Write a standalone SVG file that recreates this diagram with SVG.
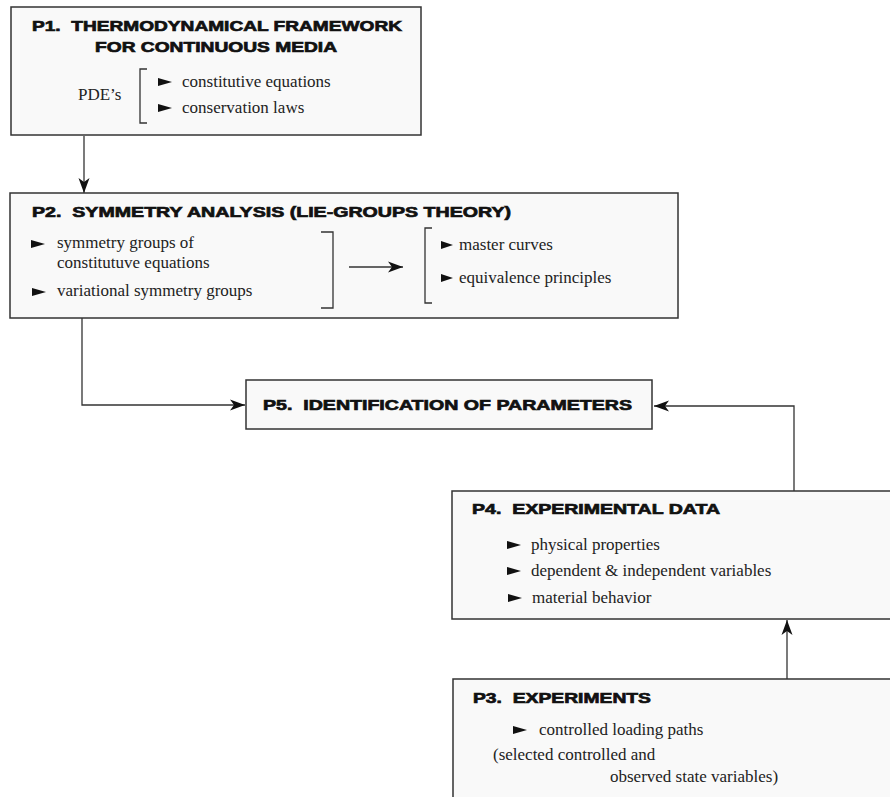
<svg xmlns="http://www.w3.org/2000/svg" width="890" height="797" viewBox="0 0 890 797">
<style>
.box{fill:#f9f9f9;stroke:#333;stroke-width:1.5}
.ttl{font-family:"Liberation Sans",Arial,sans-serif;font-weight:bold;font-size:15px;fill:#111;stroke:#111;stroke-width:0.7;white-space:pre}
.txt{font-family:"Liberation Serif","Times New Roman",serif;font-size:17px;fill:#222}
.bul{fill:#111}
.br{fill:none;stroke:#333;stroke-width:1.3}
.con{fill:none;stroke:#333;stroke-width:1.3}
</style>
<defs>
<path id="tri" d="M0,-4 L14,0 L0,4 Z"/>
<path id="tri2" d="M0,-4 L12,0 L0,4 Z"/>
<marker id="ah" markerUnits="userSpaceOnUse" markerWidth="16" markerHeight="12" viewBox="0 -6 16 12" refX="15" refY="0" orient="auto">
<path d="M0,-5.5 L15,0 L0,5.5 L4,0 Z" fill="#111"/>
</marker>
</defs>
<rect width="890" height="797" fill="#ffffff"/>

<g id="connectors">
<path class="con" d="M84,136 V193" marker-end="url(#ah)"/>
<path class="con" d="M82,318 V405 H245" marker-end="url(#ah)"/>
<path class="con" d="M794,491 V406 H654" marker-end="url(#ah)"/>
<path class="con" d="M787,679 V620" marker-end="url(#ah)"/>
</g>

<g id="P1">
<rect class="box" x="11" y="7" width="410" height="128"/>
<text class="ttl" x="32" y="31" textLength="370" lengthAdjust="spacingAndGlyphs">P1.  THERMODYNAMICAL FRAMEWORK</text>
<text class="ttl" x="95" y="52" textLength="242" lengthAdjust="spacingAndGlyphs">FOR CONTINUOUS MEDIA</text>
<text class="txt" x="78" y="100">PDE’s</text>
<path class="br" d="M147,69 H140 V123 H147"/>
<use href="#tri" class="bul" x="158" y="82"/>
<text class="txt" x="182" y="87">constitutive equations</text>
<use href="#tri" class="bul" x="158" y="108"/>
<text class="txt" x="182" y="113">conservation laws</text>
</g>

<g id="P2">
<rect class="box" x="10" y="193" width="668" height="125"/>
<text class="ttl" x="32" y="217" textLength="479" lengthAdjust="spacingAndGlyphs">P2.  SYMMETRY ANALYSIS (LIE-GROUPS THEORY)</text>
<use href="#tri" class="bul" x="31" y="244"/>
<text class="txt" x="57" y="248">symmetry groups of</text>
<text class="txt" x="57" y="268">constitutuve equations</text>
<use href="#tri" class="bul" x="32" y="292"/>
<text class="txt" x="57" y="296">variational symmetry groups</text>
<path class="br" d="M321,232 H333 V308 H321"/>
<path class="con" d="M349,267 H403" marker-end="url(#ah)"/>
<path class="br" d="M432,228 H425 V303 H432"/>
<use href="#tri2" class="bul" x="441" y="245"/>
<text class="txt" x="459" y="250">master curves</text>
<use href="#tri2" class="bul" x="441" y="278"/>
<text class="txt" x="459" y="283">equivalence principles</text>
</g>

<g id="P5">
<rect class="box" x="246" y="380" width="406" height="49"/>
<text class="ttl" x="263" y="410" textLength="369" lengthAdjust="spacingAndGlyphs">P5.  IDENTIFICATION OF PARAMETERS</text>
</g>

<g id="P4">
<rect class="box" x="452" y="491" width="450" height="128"/>
<text class="ttl" x="472" y="514" textLength="248" lengthAdjust="spacingAndGlyphs">P4.  EXPERIMENTAL DATA</text>
<use href="#tri" class="bul" x="507" y="545"/>
<text class="txt" x="531" y="550">physical properties</text>
<use href="#tri" class="bul" x="507" y="571"/>
<text class="txt" x="531" y="576">dependent &amp; independent variables</text>
<use href="#tri" class="bul" x="508" y="598"/>
<text class="txt" x="532" y="603">material behavior</text>
</g>

<g id="P3">
<rect class="box" x="453" y="679" width="450" height="130"/>
<text class="ttl" x="473" y="703" textLength="178" lengthAdjust="spacingAndGlyphs">P3.  EXPERIMENTS</text>
<use href="#tri" class="bul" x="513" y="730"/>
<text class="txt" x="539" y="735">controlled loading paths</text>
<text class="txt" x="493" y="760">(selected controlled and</text>
<text class="txt" x="610" y="782">observed state variables)</text>
</g>
</svg>
